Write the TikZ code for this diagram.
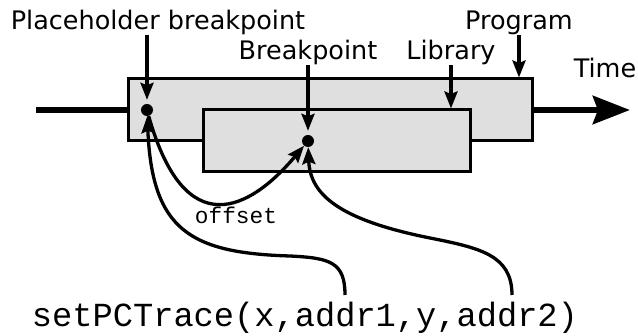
\documentclass[tikz,border=0pt]{standalone}
\usepackage{fontspec}
\setmainfont{DejaVu Sans}
\setmonofont{Liberation Mono}
\usetikzlibrary{arrows.meta}

\begin{document}
\begin{tikzpicture}[x=1pt,y=-1pt,
	box/.style={draw=black,line width=3pt,fill=gray!25,inner sep=0pt,minimum height=62pt},
	dot/.style={shape=circle,fill=black,minimum size=12pt,inner sep=0pt},
	lbl/.style={inner sep=0pt,anchor=base,font=\fontsize{25.5}{25.5}\selectfont},
	ptr/.style={line width=3.3pt,-{Stealth[length=17pt,width=13pt,inset=2.5pt]}}]
	\useasboundingbox (0,0) rectangle (638,336);
	
	% time axis
	\coordinate (tstart) at (36,110);
	\coordinate (tend) at (630,110);
	\path [line width=6.5pt,-{Stealth[length=37pt,width=28pt,inset=5pt]}] (tstart) edge (tend);
	
	\node[box,minimum width=404pt] (prog) at (330,110) {};
	\node[box,minimum width=267pt] (lib) at (336.5,141) {};
	\node[dot] (ph) at (147,110) {};
	\node[dot] (bp) at (308,141) {};
	
	\node[lbl] (phlabel) at (158,30) {Placeholder breakpoint};
	\node[lbl] (bplabel) at (308,60) {Breakpoint};
	\node[lbl] (liblabel) at (451,60) {Library};
	\node[lbl] (proglabel) at (519,30) {Program};
	\node[lbl] (timelabel) at (605,78) {Time};
	\node[inner sep=0pt,anchor=base,font=\fontsize{22.8}{23}\ttfamily] (offlabel) at (236,224) {offset};
	\node[inner sep=0pt,anchor=base,font=\fontsize{33.7}{34}\ttfamily] (call) at (305,327) {setPCTrace(x,addr1,y,addr2)};
	\coordinate (arg1) at (345,295);
	\coordinate (arg2) at (512,295);
	
	\path [ptr,shorten >=4pt] (phlabel.south -| ph) edge (ph);
	\path [ptr,shorten >=4pt] (bplabel.south) edge (bp);
	\path [ptr] (liblabel.south) edge (liblabel.south |- lib.north);
	\path [ptr] (proglabel.south) edge (proglabel.south |- prog.north);
	
	\draw [ptr] (ph) .. controls (185,245) and (250,210) .. (bp);
	\draw [ptr] (arg1) .. controls (345,262) and (330,258) .. (290,256) .. controls (190,253) and (152,230) .. (ph);
	\draw [ptr] (arg2) .. controls (512,255) and (480,248) .. (430,238) .. controls (340,220) and (310,195) .. (bp);
\end{tikzpicture}
\end{document}
